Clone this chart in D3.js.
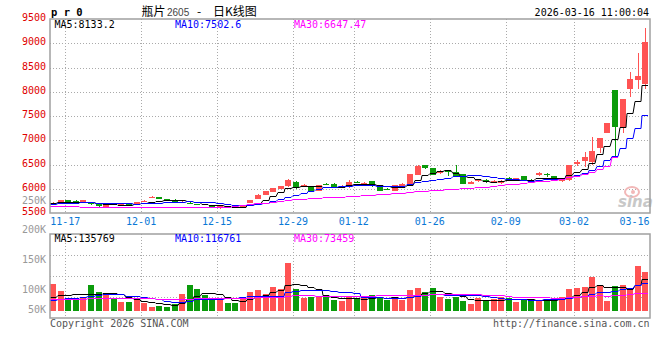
<!DOCTYPE html>
<html><head><meta charset="utf-8">
<script src="https://cdn.jsdelivr.net/npm/d3@7"></script>
<style>
body{margin:0;background:#fff}
svg text{font-family:"DejaVu Sans Mono",monospace;font-size:10px}
</style></head><body>
<svg id="chart" width="660" height="360"></svg>
<script>
// axis dates and the bar they belong to
const axisDates = ["11-17","12-01","12-15","12-29","01-12","01-26","02-09","03-02","03-16"];
const axisIdx = [1,11,21,31,39,49,59,68,78];

const open = [5700,5722,5758,5756,5722,5714,5688,5630,5680,5672,
 5695,5680,5730,5805,5825,5785,5775,5725,5705,5690,
 5690,5642,5600,5618,5615,5630,5705,5790,5880,5935,
 6005,6050,6140,6045,6026,5960,6105,6105,6040,6030,
 6130,6110,6165,6026,6000,5960,6060,6095,6280,6485,
 6425,6320,6360,6350,6300,6095,6150,6185,6115,6115,
 6220,6195,6265,6180,6285,6300,6260,6160,6180,6515,
 6580,6560,6835,7155,8036,7280,8063,8242,8166];
const close = [5712,5758,5722,5720,5758,5680,5652,5665,5672,5682,
 5660,5718,5755,5840,5790,5778,5718,5735,5700,5660,
 5665,5610,5640,5600,5605,5668,5765,5880,5950,6010,
 6060,6180,6010,6075,5943,6080,6085,6045,6058,6130,
 6125,6125,6050,5960,5975,6075,6105,6300,6470,6420,
 6280,6370,6350,6255,6095,6140,6200,6130,6165,6165,
 6200,6220,6165,6170,6315,6275,6195,6175,6490,6560,
 6660,6780,7050,7360,7279,7850,8263,8325,9026];
const high = [5720,5768,5768,5765,5768,5720,5695,5672,5695,5700,
 5700,5725,5765,5850,5835,5795,5780,5745,5720,5695,
 5695,5650,5648,5625,5622,5675,5770,5890,5955,6015,
 6065,6200,6150,6090,6030,6085,6115,6110,6070,6180,
 6150,6140,6170,6030,6010,6080,6115,6305,6480,6490,
 6430,6380,6375,6490,6305,6150,6210,6195,6175,6175,
 6240,6230,6270,6195,6340,6320,6270,6185,6495,6600,
 6750,7060,7055,7365,8040,7860,8400,8805,9321];
const low = [5695,5712,5712,5710,5712,5672,5615,5612,5655,5665,
 5655,5672,5722,5800,5780,5765,5712,5715,5690,5655,
 5655,5600,5585,5595,5598,5625,5700,5785,5872,5930,
 6000,6045,5995,6030,5930,5950,6075,6040,6030,6025,
 6110,6105,6045,5955,5965,5955,6055,6090,6275,6410,
 6275,6310,6266,6250,6090,6090,6145,6125,6110,6105,
 6190,6190,6160,6150,6260,6250,6180,6140,6170,6470,
 6455,6490,6745,7150,6660,7140,7900,8063,8063];
// volume in thousand lots
const volumeK = [115,85,57,57,57,111,81,77,51,40,
 40,50,35,18,21,18,31,72,111,94,
 68,47,47,34,34,55,81,89,72,102,
 94,204,94,55,60,64,64,47,43,64,
 55,55,68,60,47,60,47,89,99,82,
 99,61,51,61,43,30,57,43,51,61,
 54,40,51,47,47,51,47,60,94,99,
 103,145,111,43,106,111,98,191,167];
// bars before the window, needed for the averages
const preClose = [5660,5670,5690,5680,5680,5690,5700,5710,5718];
const preVolumeK = [60,55,48,52,58,50,47,55,53,49,56,51,48,54,52,50,57,53,51,51,
 36,40,37,39,38,42,45,43,45];
// MA30 of price as drawn on the chart
const ma30 = [5640,5640,5640,5638,
 5622,5620,5618,5617,5616,5616,5616,5616,5616,5616,5616,5616,5616,5616,5616,5616,5616,
 5620,5626,5634,5646,5660,5676,5696,5714,5732,5750,5768,
 5780,5790,5800,5810,5820,5830,5840,5848,5856,5864,5872,5882,5895,5908,5920,5932,5944,5956,5966,5976,5986,5996,6006,6016,
 6030,6045,6060,6075,6090,6105,6120,6135,6150,6168,6188,6210,6235,6263,6300,6345,6400,6470,6647];

const priceTicks = [9500,9000,8500,8000,7500,7000,6500,6000,5500];
const volTicks = [250,200,150,100,50];

const svg = d3.select("#chart");
const L = 50, R = 650, pTop = 19, pBot = 213, vTop = 234, vBot = 318;
const n = close.length;
const bw = 6;
const x = d3.scaleLinear().domain([0, n]).range([L, R]);
const y = d3.scaleLinear().domain([5500, 9500]).range([pBot, pTop]);
const yv = d3.scaleLinear().domain([0, 330]).range([311, 233.5]);
const yvLab = d3.scaleLinear().domain([100, 200]).range([291.7, 232.3]);
const bx = i => Math.round(x(i));
const red = "#ff5353", green = "#0b9b0b";
const col = i => close[i] >= open[i] ? red : green;

function movingAvg(pre, vals, k) {
  const all = pre.concat(vals);
  return vals.map((_, i) => d3.mean(all.slice(i + pre.length - k + 1, i + pre.length + 1)));
}

// grid
const grid = svg.append("g").attr("stroke", "#aaa").attr("stroke-dasharray", "1,2");
grid.selectAll(".hp").data(priceTicks.slice(1, -1)).join("line")
  .attr("x1", L).attr("x2", R)
  .attr("y1", v => Math.round(y(v)) + 0.5).attr("y2", v => Math.round(y(v)) + 0.5);
grid.selectAll(".hv").data([1, 2, 3]).join("line")
  .attr("x1", L).attr("x2", R)
  .attr("y1", k => Math.round(vTop + (vBot - vTop) * k / 4) + 0.5)
  .attr("y2", k => Math.round(vTop + (vBot - vTop) * k / 4) + 0.5);
axisIdx.slice(0, -1).forEach(d => {
  const gx = Math.round(x(d + 1)) + 0.5;
  grid.append("line").attr("x1", gx).attr("x2", gx).attr("y1", pTop).attr("y2", pBot);
  grid.append("line").attr("x1", gx).attr("x2", gx).attr("y1", vTop).attr("y2", vBot);
});

// sina watermark
const wm = svg.append("g");
wm.append("ellipse").attr("cx", 632).attr("cy", 192).attr("rx", 7).attr("ry", 5)
  .attr("fill", "none").attr("stroke", "#f2b8b8").attr("stroke-width", 2);
wm.append("circle").attr("cx", 633).attr("cy", 192).attr("r", 2).attr("fill", "#f2b8b8");
wm.append("text").attr("x", 618).attr("y", 207)
  .style("font-family", "DejaVu Sans").style("font-size", "15px")
  .style("font-weight", "bold").style("font-style", "italic")
  .attr("fill", "#c8c8c8").text("sina");

// candles
const idx = d3.range(n);
const cg = svg.append("g");
cg.selectAll(".wick").data(idx).join("rect")
  .attr("x", i => bx(i) + 3).attr("width", 1)
  .attr("y", i => Math.round(y(high[i])))
  .attr("height", i => Math.max(1, Math.round(y(low[i])) - Math.round(y(high[i]))))
  .attr("fill", col);
cg.selectAll(".body").data(idx).join("rect")
  .attr("x", i => bx(i)).attr("width", bw)
  .attr("y", i => Math.round(y(Math.max(open[i], close[i]))))
  .attr("height", i => Math.max(1, Math.round(y(Math.min(open[i], close[i]))) - Math.round(y(Math.max(open[i], close[i])))))
  .attr("fill", col);

// volume bars
svg.append("g").selectAll("rect").data(idx).join("rect")
  .attr("x", i => bx(i)).attr("width", bw)
  .attr("y", i => Math.round(yv(volumeK[i])))
  .attr("height", i => 311 - Math.round(yv(volumeK[i])))
  .attr("fill", col);

// moving average lines, one flat step per bar
const line = d3.line();
function drawMA(vals, ys, color) {
  const pts = [];
  vals.forEach((v, i) => {
    const yy = Math.round(ys(v)) + 0.5;
    pts.push([bx(i), yy], [bx(i) + bw, yy]);
  });
  svg.append("path").attr("d", line(pts)).attr("fill", "none")
    .attr("stroke", color).attr("stroke-width", 1);
}
drawMA(movingAvg(preClose, close, 5), y, "#000");
drawMA(movingAvg(preClose, close, 10), y, "#0000ff");
drawMA(ma30, y, "#ff00ff");
drawMA(movingAvg(preVolumeK, volumeK, 5), yv, "#000");
drawMA(movingAvg(preVolumeK, volumeK, 10), yv, "#0000ff");
drawMA(movingAvg(preVolumeK, volumeK, 30), yv, "#ff00ff");

// frames
const fr = svg.append("g").attr("fill", "none").attr("stroke", "#a0a0a0").attr("stroke-width", 1.5);
fr.append("rect").attr("x", L).attr("y", pTop).attr("width", R - L).attr("height", pBot - pTop);
fr.append("rect").attr("x", L).attr("y", vTop).attr("width", R - L).attr("height", vBot - vTop);

// axis labels
svg.selectAll(".pl").data(priceTicks).join("text")
  .attr("x", 46).attr("y", v => Math.round(y(v)) + 1.5)
  .attr("text-anchor", "end").attr("fill", "#e00000").text(v => v);
svg.selectAll(".vl").data(volTicks).join("text")
  .attr("x", 46).attr("y", v => Math.min(yvLab(v), 311.7) + 1)
  .attr("text-anchor", "end").attr("fill", "#999").text(v => v + "K");
svg.selectAll(".dl").data(axisDates).join("text")
  .attr("x", (d, k) => Math.min(x(axisIdx[k] + 1), 634.5))
  .attr("y", 225).attr("text-anchor", "middle").attr("fill", "#0a78d6").text(d => d);

// header texts
svg.append("text").attr("x", 51).attr("y", 16).style("font-weight", "bold")
  .style("font-size", "10.5px").text("p r 0");
const cjk = "Noto Sans CJK SC";
svg.append("text").attr("x", 141.5).attr("y", 16).style("font-family", cjk).style("font-size", "12px").text("瓶片");
svg.append("text").attr("x", 167).attr("y", 15.5).style("font-family", "Liberation Sans").style("font-size", "10px").attr("fill", "#444").text("2605");
svg.append("text").attr("x", 197).attr("y", 16).style("font-family", cjk).style("font-size", "12px").text("-");
svg.append("text").attr("x", 213).attr("y", 16).style("font-family", cjk).style("font-size", "12px").text("日K线图");
svg.append("text").attr("x", 649).attr("y", 15.5).attr("text-anchor", "end").text("2026-03-16 11:00:04");

const maTxt = [["MA5:8133.2", "#000", 54.5], ["MA10:7502.6", "#0000ff", 175], ["MA30:6647.47", "#ff00ff", 294]];
const vmaTxt = [["MA5:135769", "#000", 54.5], ["MA10:116761", "#0000ff", 175], ["MA30:73459", "#ff00ff", 294]];
maTxt.forEach(t => svg.append("text").attr("x", t[2]).attr("y", 27.5).attr("fill", t[1]).text(t[0]));
vmaTxt.forEach(t => svg.append("text").attr("x", t[2]).attr("y", 242).attr("fill", t[1]).text(t[0]));

svg.append("text").attr("x", 50).attr("y", 327).attr("fill", "#555").text("Copyright 2026 SINA.COM");
svg.append("text").attr("x", 649.5).attr("y", 327).attr("text-anchor", "end").attr("fill", "#555").text("http://finance.sina.com.cn");
</script>
</body></html>
